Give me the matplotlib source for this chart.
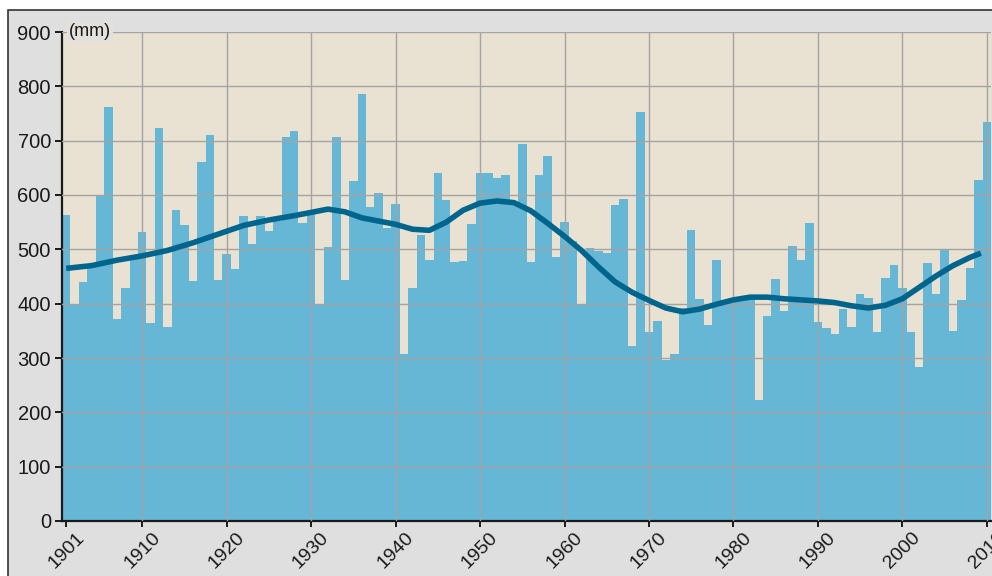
import numpy as np
import matplotlib.pyplot as plt
from matplotlib.patches import Rectangle

plt.rcParams['font.family'] = ['Liberation Sans', 'DejaVu Sans']

# annual precipitation (mm), 1901-2010
years = np.arange(1901, 2011)
rain = [563, 397, 439, 468, 600, 762, 371, 429, 486, 532,
        364, 723, 357, 573, 544, 442, 661, 710, 444, 491,
        464, 561, 510, 561, 533, 553, 707, 717, 548, 565,
        398, 505, 707, 443, 625, 785, 577, 604, 539, 584,
        307, 428, 527, 480, 641, 590, 477, 479, 546, 641,
        641, 631, 637, 583, 693, 477, 636, 672, 485, 551,
        515, 398, 502, 497, 494, 582, 593, 322, 753, 348,
        368, 296, 308, 392, 535, 408, 360, 481, 400, 405,
        413, 413, 223, 378, 445, 386, 507, 480, 549, 367,
        356, 345, 390, 357, 417, 411, 348, 447, 472, 428,
        348, 283, 475, 417, 499, 350, 407, 465, 628, 734]

# smoothed trend
trend_x = [1901, 1904, 1907, 1910, 1913, 1916, 1919, 1922, 1925, 1928,
           1930, 1932, 1934, 1936, 1938, 1940, 1942, 1944, 1946, 1948,
           1950, 1952, 1954, 1956, 1958, 1960, 1962, 1964, 1966, 1968,
           1970, 1972, 1974, 1976, 1978, 1980, 1982, 1984, 1986, 1988,
           1990, 1992, 1994, 1996, 1998, 2000, 2002, 2004, 2006, 2008, 2009.3]
trend_y = [465, 470, 480, 488, 498, 512, 528, 544, 554, 562,
           568, 574, 569, 558, 552, 546, 537, 535, 550, 572,
           585, 589, 586, 571, 548, 524, 498, 468, 440, 421,
           406, 392, 385, 390, 399, 407, 412, 412, 409, 407,
           405, 402, 396, 392, 397, 409, 430, 451, 470, 485, 493]

xticks = [1901, 1910, 1920, 1930, 1940, 1950, 1960, 1970, 1980, 1990, 2000, 2010]

fig = plt.figure(figsize=(9.92, 5.76), dpi=100)
panel = Rectangle((8 / 992, -0.1), 1.2, 1.1 - 10 / 576, transform=fig.transFigure,
                  facecolor='#dfdfe0', edgecolor='#333333', lw=1.2, zorder=-5)
fig.patches.append(panel)

ax = fig.add_axes([62 / 992, 1 - 521 / 576, 929 / 992, (521 - 32) / 576])
ax.set_facecolor('#e9e2d2')
# one-year bars drawn as a single filled step shape (no seams between bars)
edges = np.append(years - 0.5, years[-1] + 0.5)
ax.stairs(rain, edges, baseline=0, fill=True, color='#66b6d6', linewidth=0, zorder=1)
ax.plot(trend_x, trend_y, color='#00658c', lw=4.0, zorder=3,
        solid_capstyle='butt', solid_joinstyle='round')

ax.set_xlim(1900.5, 2010.5)
ax.set_ylim(0, 900)
ax.set_yticks(range(0, 901, 100))
ax.set_xticks(xticks)
ax.set_xticklabels([str(t) for t in xticks], rotation=45)
ax.set_axisbelow(False)
ax.grid(True, color='#a4a4a4', lw=1.0, zorder=2)
ax.get_xgridlines()[0].set_visible(False)
ax.get_ygridlines()[0].set_visible(False)

for s in ['top', 'right']:
    ax.spines[s].set_visible(False)
ax.spines['left'].set_linewidth(1.6)
ax.spines['bottom'].set_linewidth(1.6)
ax.spines['left'].set_color('#1a1a1a')
ax.spines['bottom'].set_color('#1a1a1a')
ax.tick_params(axis='y', length=5, width=1.4, labelsize=14.5, pad=3, colors='#1a1a1a')
ax.tick_params(axis='x', length=4, width=1.4, labelsize=14, pad=2, colors='#1a1a1a')

ax.text(1901.3, 900, '(mm)', fontsize=13, va='center', ha='left', color='#1a1a1a', zorder=4,
        bbox=dict(facecolor='#e3e1dc', edgecolor='none', pad=1.5))

fig.savefig('out.png', dpi=100)
